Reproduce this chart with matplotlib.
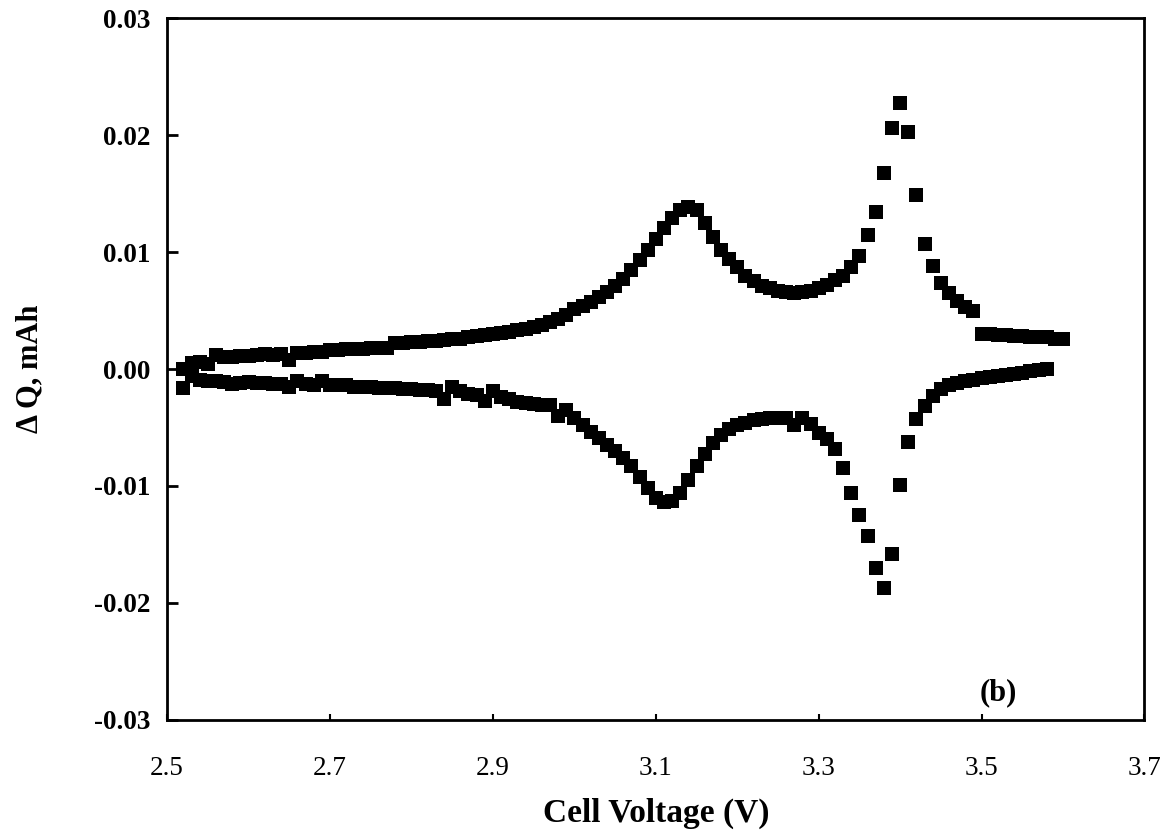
import matplotlib
matplotlib.use("Agg")
import matplotlib.pyplot as plt
import numpy as np

plt.rcParams['font.family'] = ['Liberation Serif', 'DejaVu Serif']
plt.rcParams['axes.unicode_minus'] = False

# charge branch (upper), V and mAh
v_up = [2.52, 2.53, 2.54, 2.55, 2.56, 2.57, 2.58, 2.59, 2.60, 2.61, 2.62, 2.63,
        2.64, 2.65, 2.66, 2.67, 2.68, 2.69, 2.70, 2.71, 2.72, 2.73, 2.74, 2.75,
        2.76, 2.77, 2.78, 2.79, 2.80, 2.81, 2.82, 2.83, 2.84, 2.85, 2.86, 2.87,
        2.88, 2.89, 2.90, 2.91, 2.92, 2.93, 2.94, 2.95, 2.96, 2.97, 2.98, 2.99,
        3.00, 3.01, 3.02, 3.03, 3.04, 3.05, 3.06, 3.07, 3.08, 3.09, 3.10, 3.11,
        3.12, 3.13, 3.14, 3.15, 3.16, 3.17, 3.18, 3.19, 3.20, 3.21, 3.22, 3.23,
        3.24, 3.25, 3.26, 3.27, 3.28, 3.29, 3.30, 3.31, 3.32, 3.33, 3.34, 3.35,
        3.36, 3.37, 3.38, 3.39, 3.40, 3.41, 3.42, 3.43, 3.44, 3.45, 3.46, 3.47,
        3.48, 3.49, 3.50, 3.51, 3.52, 3.53, 3.54, 3.55, 3.56, 3.57, 3.58, 3.59,
        3.60]
dq_up = [0.0000, 0.0005, 0.0006, 0.0004, 0.0012, 0.0010, 0.0010, 0.0011, 0.0011,
         0.0012, 0.0013, 0.0012, 0.0013, 0.0008, 0.0014, 0.0014, 0.0015, 0.0015,
         0.0016, 0.0016, 0.0017, 0.0017, 0.0017, 0.0018, 0.0018, 0.0018, 0.0022,
         0.0022, 0.0023, 0.0023, 0.0024, 0.0024, 0.0025, 0.0026, 0.0026, 0.0027,
         0.0028, 0.0029, 0.0030, 0.0031, 0.0032, 0.0033, 0.0034, 0.0036, 0.0038,
         0.0040, 0.0043, 0.0046, 0.0051, 0.0054, 0.0057, 0.0062, 0.0066, 0.0071,
         0.0077, 0.0085, 0.0093, 0.0102, 0.0111, 0.0121, 0.0129, 0.0136, 0.0139,
         0.0136, 0.0125, 0.0113, 0.0102, 0.0094, 0.0087, 0.0080, 0.0075, 0.0071,
         0.0069, 0.0067, 0.0066, 0.0065, 0.0066, 0.0067, 0.0069, 0.0072, 0.0076,
         0.0080, 0.0087, 0.0097, 0.0115, 0.0134, 0.0168, 0.0206, 0.0228, 0.0203,
         0.0149, 0.0107, 0.0088, 0.0074, 0.0065, 0.0058, 0.0053, 0.0050, 0.0030,
         0.0030, 0.0029, 0.0029, 0.0028, 0.0028, 0.0027, 0.0027, 0.0027, 0.0026,
         0.0026]

# discharge branch (lower)
v_dn = [2.52, 2.53, 2.54, 2.55, 2.56, 2.57, 2.58, 2.59, 2.60, 2.61, 2.62, 2.63,
        2.64, 2.65, 2.66, 2.67, 2.68, 2.69, 2.70, 2.71, 2.72, 2.73, 2.74, 2.75,
        2.76, 2.77, 2.78, 2.79, 2.80, 2.81, 2.82, 2.83, 2.84, 2.85, 2.86, 2.87,
        2.88, 2.89, 2.90, 2.91, 2.92, 2.93, 2.94, 2.95, 2.96, 2.97, 2.98, 2.99,
        3.00, 3.01, 3.02, 3.03, 3.04, 3.05, 3.06, 3.07, 3.08, 3.09, 3.10, 3.11,
        3.12, 3.13, 3.14, 3.15, 3.16, 3.17, 3.18, 3.19, 3.20, 3.21, 3.22, 3.23,
        3.24, 3.25, 3.26, 3.27, 3.28, 3.29, 3.30, 3.31, 3.32, 3.33, 3.34, 3.35,
        3.36, 3.37, 3.38, 3.39, 3.40, 3.41, 3.42, 3.43, 3.44, 3.45, 3.46, 3.47,
        3.48, 3.49, 3.50, 3.51, 3.52, 3.53, 3.54, 3.55, 3.56, 3.57, 3.58]
dq_dn = [-0.0016, -0.0006, -0.0009, -0.0010, -0.0010, -0.0011, -0.0013, -0.0012,
         -0.0011, -0.0012, -0.0012, -0.0013, -0.0013, -0.0015, -0.0010, -0.0013,
         -0.0014, -0.0010, -0.0014, -0.0014, -0.0014, -0.0015, -0.0015, -0.0015,
         -0.0016, -0.0016, -0.0016, -0.0017, -0.0017, -0.0018, -0.0018, -0.0019,
         -0.0026, -0.0015, -0.0019, -0.0021, -0.0022, -0.0027, -0.0019, -0.0024,
         -0.0026, -0.0028, -0.0029, -0.0030, -0.0031, -0.0031, -0.0040, -0.0035,
         -0.0042, -0.0048, -0.0054, -0.0059, -0.0065, -0.0070, -0.0076, -0.0083,
         -0.0092, -0.0102, -0.0110, -0.0114, -0.0113, -0.0106, -0.0095, -0.0083,
         -0.0073, -0.0063, -0.0056, -0.0051, -0.0048, -0.0046, -0.0044, -0.0043,
         -0.0042, -0.0042, -0.0042, -0.0048, -0.0042, -0.0047, -0.0055, -0.0060,
         -0.0068, -0.0085, -0.0106, -0.0125, -0.0143, -0.0170, -0.0187, -0.0158,
         -0.0099, -0.0062, -0.0043, -0.0032, -0.0023, -0.0017, -0.0014, -0.0012,
         -0.0010, -0.0009, -0.0008, -0.0007, -0.0006, -0.0005, -0.0004, -0.0003,
         -0.0002, -0.0001, 0.0000]

x_ticks = [2.5, 2.7, 2.9, 3.1, 3.3, 3.5, 3.7]
y_ticks = [-0.03, -0.02, -0.01, 0.00, 0.01, 0.02, 0.03]

fig = plt.figure(figsize=(11.69, 8.34), dpi=100)
ax = fig.add_axes([0.143, 0.137, 0.836, 0.841])

ax.plot(v_up, dq_up, 's', color='black', markersize=9.7, markeredgewidth=0)
ax.plot(v_dn, dq_dn, 's', color='black', markersize=9.7, markeredgewidth=0)

ax.set_xlim(2.5, 3.7)
ax.set_ylim(-0.03, 0.03)
ax.set_xticks(x_ticks)
ax.set_xticklabels(['%.1f' % t for t in x_ticks], fontsize=19.5)
ax.set_yticks(y_ticks)
ax.set_yticklabels(['%.2f' % t for t in y_ticks], fontsize=19.5, fontweight='bold')

ax.tick_params(axis='y', direction='in', length=8, width=2, pad=12)
ax.tick_params(axis='x', direction='in', length=4, width=1.5, pad=26)
for s in ax.spines.values():
    s.set_linewidth(2)

ax.set_xlabel('Cell Voltage (V)', fontsize=24, fontweight='bold', labelpad=12)
ax.set_ylabel('\u0394 Q, mAh', fontsize=22, fontweight='bold', labelpad=36)
ax.text(3.521, -0.0277, '(b)', fontsize=22, fontweight='bold', ha='center', va='center')

fig.savefig('out.png', dpi=100)
